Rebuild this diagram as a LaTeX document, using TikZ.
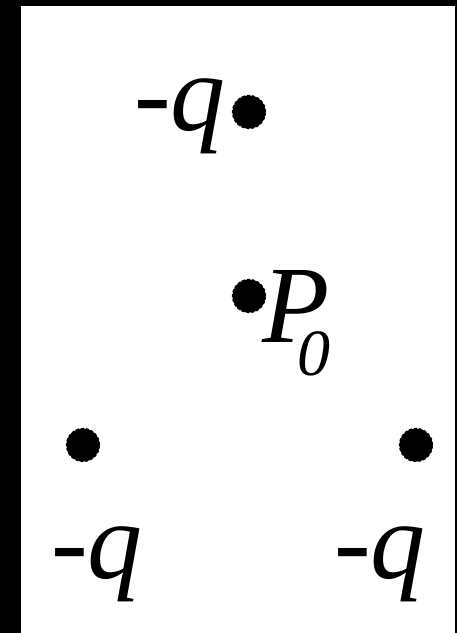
\documentclass[tikz,border=0pt]{standalone}
\usepackage{fontspec}
\setmainfont{Liberation Serif}
\usetikzlibrary{positioning}
\tikzset{
  charge/.style={circle,fill=black,draw=black,densely dashed,line width=1.2pt,
                 minimum size=33pt,inner sep=0pt},
  lbl/.style={inner sep=0pt,anchor=base west,
              font=\fontsize{110}{110}\selectfont\itshape},
  sublbl/.style={lbl,font=\fontsize{66}{66}\selectfont\itshape},
}
\begin{document}
\begin{tikzpicture}[x=1pt,y=1pt]
  % frame
  \fill[black] (0,0) rectangle (457,633);
  \fill[white] (21,0) rectangle (455,627);
  \useasboundingbox (0,0) rectangle (457,633);

  % charges
  \node[charge] (qtop)   at (249,521) {};
  \node[charge] (pzero)  at (249,337) {};
  \node[charge] (qleft)  at (83,188)  {};
  \node[charge] (qright) at (416,188) {};

  % labels
  \node[lbl] (qtoplbl)   at (134,502) {-q};
  \node[lbl] (plbl)      at (262,290) {P};
  \node[sublbl] (psub)   at (297,257) {0};
  \node[lbl] (qleftlbl)  at (51,54)   {-q};
  \node[lbl] (qrightlbl) at (334,54)  {-q};
\end{tikzpicture}
\end{document}
